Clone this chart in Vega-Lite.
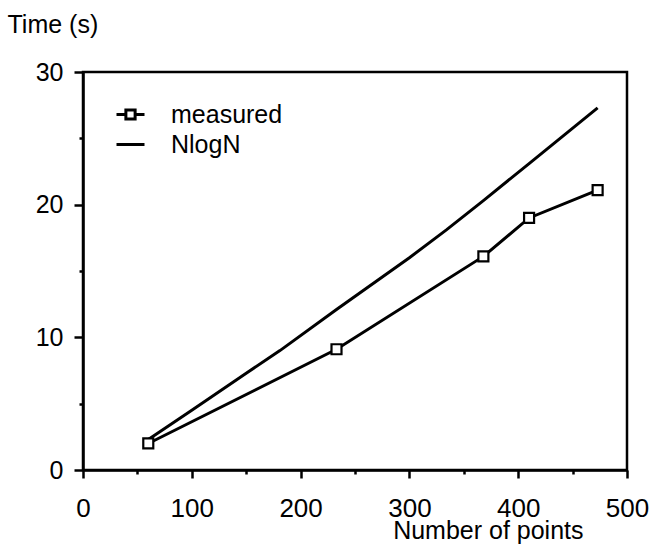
{
  "$schema": "https://vega.github.io/schema/vega-lite/v6.json",
  "width": 544,
  "height": 398,
  "autosize": "none",
  "padding": {"left": 83, "top": 72, "right": 26, "bottom": 80},
  "background": "white",
  "config": {
    "font": "Liberation Sans",
    "view": {"stroke": "black", "strokeWidth": 2.5},
    "axis": {
      "domainColor": "black", "domainWidth": 2.5, "tickColor": "black", "tickWidth": 2.5,
      "labelColor": "black", "labelFontSize": 25, "labelFont": "Liberation Sans",
      "titleColor": "black", "titleFontSize": 25, "titleFontWeight": "normal", "titleFont": "Liberation Sans",
      "grid": false, "labelFlush": false, "labelOverlap": false
    }
  },
  "datasets": {
    "measured": [
      {"n": 60, "t": 2.0, "series": "measured"},
      {"n": 233, "t": 9.1, "series": "measured"},
      {"n": 368, "t": 16.1, "series": "measured"},
      {"n": 410, "t": 19.0, "series": "measured"},
      {"n": 473, "t": 21.1, "series": "measured"}
    ],
    "nlogn": [
      {"n": 60, "t": 2.3, "series": "NlogN"},
      {"n": 100, "t": 4.5, "series": "NlogN"},
      {"n": 150, "t": 7.3, "series": "NlogN"},
      {"n": 181, "t": 9.0, "series": "NlogN"},
      {"n": 233, "t": 12.1, "series": "NlogN"},
      {"n": 300, "t": 16.0, "series": "NlogN"},
      {"n": 334, "t": 18.1, "series": "NlogN"},
      {"n": 368, "t": 20.3, "series": "NlogN"},
      {"n": 410, "t": 23.1, "series": "NlogN"},
      {"n": 473, "t": 27.3, "series": "NlogN"}
    ],
    "legend": [
      {"series": "measured"},
      {"series": "NlogN"}
    ]
  },
  "encoding": {
    "x": {
      "field": "n", "type": "quantitative",
      "scale": {"domain": [0, 500], "nice": false, "zero": false},
      "axis": {
        "values": [0, 50, 100, 150, 200, 250, 300, 350, 400, 450, 500],
        "labelExpr": "datum.value % 100 === 0 ? datum.label : ''",
        "tickSize": {"condition": {"test": "datum.value % 100 === 0", "value": 8}, "value": 4},
        "labelPadding": 17,
        "labelFontSize": 26,
        "title": "Number of points",
        "titleX": 500, "titleY": 68, "titleAlign": "right", "titleBaseline": "alphabetic", "titleAnchor": null
      }
    },
    "y": {
      "field": "t", "type": "quantitative",
      "scale": {"domain": [0, 30], "nice": false},
      "axis": {
        "values": [0, 5, 10, 15, 20, 25, 30],
        "labelExpr": "datum.value % 10 === 0 ? datum.label : ''",
        "tickSize": {"condition": {"test": "datum.value % 10 === 0", "value": 9}, "value": 4},
        "labelPadding": 11,
        "encode": {"labels": {"update": {"dx": {"value": -7}, "dy": {"value": 2}}}},
        "title": "Time (s)",
        "titleAngle": 0, "titleX": -76, "titleY": -40, "titleAlign": "left", "titleBaseline": "alphabetic", "titleAnchor": null
      }
    }
  },
  "layer": [
    {
      "data": {"name": "nlogn"},
      "mark": {"type": "line", "color": "black", "strokeWidth": 3}
    },
    {
      "data": {"name": "measured"},
      "mark": {"type": "line", "color": "black", "strokeWidth": 3}
    },
    {
      "data": {"name": "measured"},
      "mark": {"type": "point", "shape": "square", "filled": true, "fill": "white", "stroke": "black", "strokeWidth": 2.2, "size": 100, "opacity": 1}
    },
    {
      "data": {"name": "legend"},
      "mark": {"type": "point", "size": 0, "filled": false, "color": "black", "strokeWidth": 3, "opacity": 1},
      "encoding": {
        "x": {"value": 0},
        "y": {"value": 0},
        "shape": {
          "field": "series", "type": "nominal",
          "scale": {"domain": ["measured", "NlogN"], "range": ["M-1,0H-0.33M0.33,0H1M-0.33,-0.33H0.33V0.33H-0.33Z", "stroke"]},
          "legend": {
            "title": null, "orient": "none", "legendX": 32, "legendY": 27, "padding": 0,
            "symbolSize": 784, "symbolStrokeWidth": 3, "symbolStrokeColor": "black", "symbolOpacity": 1,
            "labelFontSize": 25, "labelColor": "black", "labelFont": "Liberation Sans", "labelOffset": 25,
            "rowPadding": 1, "labelLimit": 300,
            "encode": {
              "symbols": {"update": {"size": {"value": 784}, "opacity": {"value": 1}, "stroke": {"value": "black"}, "strokeWidth": {"value": 3}}}
            }
          }
        }
      }
    }
  ]
}
